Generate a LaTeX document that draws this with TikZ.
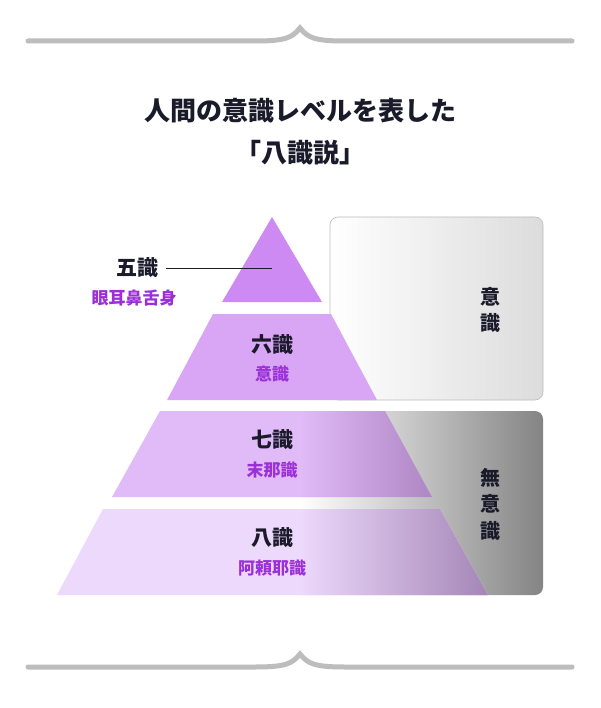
\documentclass[tikz,border=0pt]{standalone}
\usepackage{fontspec}
\setmainfont{Noto Sans CJK JP}
\usetikzlibrary{shadings}
\definecolor{deco}{HTML}{BDBDBD}
\definecolor{t1}{HTML}{CC8AF2}
\definecolor{t2}{HTML}{D8A6F4}
\definecolor{t3}{HTML}{E1BAF8}
\definecolor{t3d}{HTML}{AD86C2}
\definecolor{t4}{HTML}{EDD9FC}
\definecolor{t4d}{HTML}{A486B6}
\definecolor{lab}{HTML}{9B30D9}
\definecolor{ink}{HTML}{1A1A2A}
\definecolor{boxg}{HTML}{DCDCDC}
\definecolor{boxd}{HTML}{848484}
\tikzset{
  deco/.style={draw=deco,line width=5pt,line cap=round},
  main/.style={font=\fontsize{21}{24}\selectfont\bfseries,text=ink,inner sep=0pt},
  sub/.style={font=\fontsize{17}{20}\selectfont\bfseries,text=lab,inner sep=0pt},
  side/.style={font=\fontsize{20}{26.5}\selectfont\bfseries,text=ink,align=center,inner sep=0pt},
}
\begin{document}
\begin{tikzpicture}[x=1pt,y=-1pt]
\useasboundingbox[fill=white] (0,0) rectangle (600,708);
% decorative lines
\draw[deco] (28,41) -- (255,41) .. controls (285,41) and (292,38) .. (300,28) .. controls (308,38) and (315,41) .. (345,41) -- (572,41);
\draw[deco] (28,667) -- (255,667) .. controls (285,667) and (292,664) .. (300,654) .. controls (308,664) and (315,667) .. (345,667) -- (572,667);
% title
\node[font=\fontsize{26}{42}\selectfont\bfseries,text=ink,align=center] (title) at (300,132) {人間の意識レベルを表した\\「八識説」};
% top box
\shade[left color=white,right color=boxg,rounded corners=8pt] (330,217) rectangle (543,400);
\draw[draw=boxg!85!black,line width=0.6pt,rounded corners=8pt] (330,217) rectangle (543,400);
% bottom box
\shade[left color=white,right color=boxd] (300,411) -- (535,411) arc[start angle=-90,end angle=0,radius=8] -- (543,587) arc[start angle=0,end angle=90,radius=8] -- (300,595) -- cycle;
% pyramid
\fill[t1] (272,217) -- (322,302) -- (222,302) -- cycle;
\fill[t2] (213,314) -- (331,314) -- (377,400) -- (167,400) -- cycle;
\fill[t3] (160,411) -- (385,411) -- (432,497) -- (112,497) -- cycle;
\begin{scope}
\clip (160,411) -- (385,411) -- (432,497) -- (112,497) -- cycle;
\shade[left color=t3,right color=t3d] (300,411) rectangle (432,497);
\end{scope}
\fill[t4] (103,509) -- (440,509) -- (488,595) -- (57,595) -- cycle;
\begin{scope}
\clip (103,509) -- (440,509) -- (488,595) -- (57,595) -- cycle;
\shade[left color=t4,right color=t4d] (300,509) rectangle (488,595);
\end{scope}
% labels
\node[main] (g5) at (137,268) {五識};
\coordinate (g5e) at (272,268);
\draw[ink,line width=0.8pt] (166,268) -- (g5e);
\node[sub] (g5s) at (134,298) {眼耳鼻舌身};
\node[main] (g6) at (272,345) {六識};
\node[sub] (g6s) at (272,374) {意識};
\node[main] (g7) at (272,440) {七識};
\node[sub] (g7s) at (272,470) {末那識};
\node[main] (g8) at (272,538) {八識};
\node[sub] (g8s) at (272,568) {阿頼耶識};
\node[side] (s1) at (490,310) {意\\識};
\node[side] (s2) at (490,504) {無\\意\\識};
\end{tikzpicture}
\end{document}
